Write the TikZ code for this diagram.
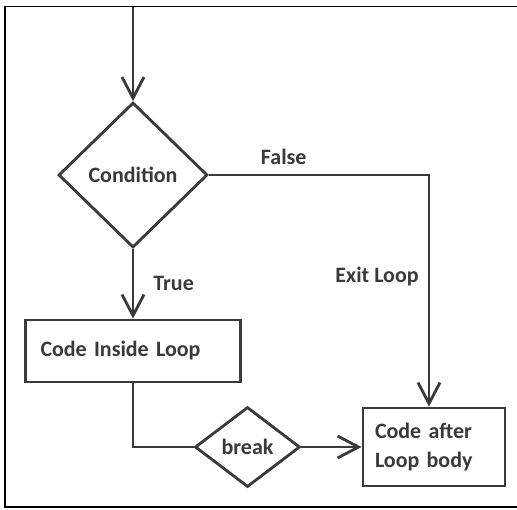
\documentclass[tikz,border=0pt]{standalone}
\usepackage{fontspec}
\setmainfont{Carlito}
\usetikzlibrary{shapes,arrows.meta}
\definecolor{ink}{RGB}{58,58,58}
\tikzstyle{block} = [draw=ink, line width=1.6pt, fill=white, rectangle, 
    align=left, inner xsep=0.3cm, inner ysep=0pt]
\tikzstyle{decision} = [draw=ink, line width=1.6pt, fill=white, diamond, inner sep=0pt]
\tikzstyle{input} = [coordinate]
\tikzstyle{lbl} = [inner sep=0pt]

\begin{document}
\begin{tikzpicture}[auto, node distance=2cm, text=ink, line width=1.6pt,
    >={Straight Barb[length=0.42cm,width=0.44cm]},
    font=\fontsize{12.5}{17}\selectfont\bfseries]
% Frame
	\useasboundingbox (0,0) rectangle (10.34,-10.18);
	\draw [black, line width=1.1pt] (10.5,-0.13) -- (0.10,-0.13) -- (0.10,-10.14) -- (10.5,-10.14);
% Set-up
	\node [decision, minimum width=2.98cm, minimum height=2.9cm] (cond) at (2.66,-3.50) {Condition};
	\node [input, above of=cond, node distance=3.37cm, name=start] {};
	\node [input, right of=cond, node distance=5.92cm, name=turn] {};
% Loop body
	\node [block, below of=cond, node distance=3.52cm, text width=3.7cm, minimum height=1.24cm] (body) {Code Inside Loop};
	\node [input, below of=body, node distance=1.92cm, name=bend] {};
	\node [decision, right of=bend, node distance=2.29cm, minimum width=2.1cm, minimum height=1.6cm] (brk) {break};
% After the loop
	\node [block, right of=brk, node distance=3.73cm, inner xsep=0.24cm, text width=2.36cm, minimum height=1.56cm] (after) {Code after\\Loop body};
% Arrows
	\draw [draw=ink, ->] (start) -- (cond);
	\draw [draw=ink, ->] (cond) -- node[lbl, right=0.38cm] {True} (body);
	\draw [draw=ink, ->] (cond.east) -- node[lbl, above=0.18cm, pos=0.34] {False} (turn)
		-- node[lbl, left=0.18cm, pos=0.44] {Exit Loop} (turn |- after.north);
	\draw [draw=ink] (body) |- (brk);
	\draw [draw=ink, ->] (brk) -- (after);
\end{tikzpicture}
\end{document}
